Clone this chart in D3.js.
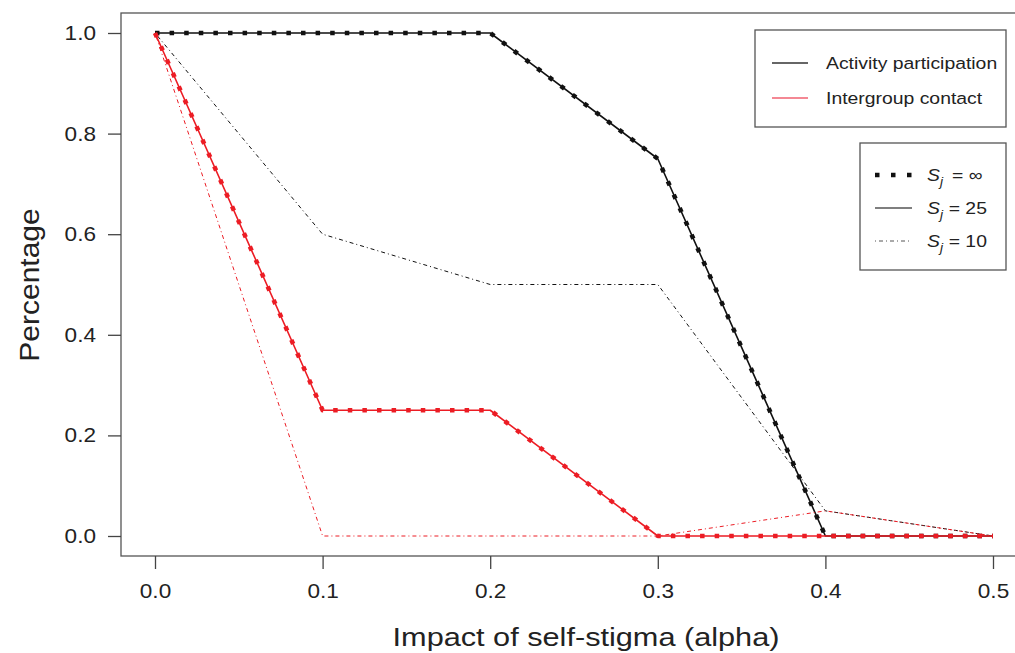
<!DOCTYPE html>
<html>
<head>
<meta charset="utf-8">
<script src="https://cdn.jsdelivr.net/npm/d3@7"></script>
<style>
html,body{margin:0;padding:0;background:#fff;overflow:hidden;}
text{font-family:"Liberation Sans",Arial,sans-serif;fill:#222;}
</style>
</head>
<body>
<svg id="chart" width="1015" height="653"></svg>
<script>
const alphas = [0.0, 0.1, 0.2, 0.3, 0.4, 0.5];
const activityInf = [1, 1, 1, 0.75, 0, 0];
const activity25 = [1, 1, 1, 0.75, 0, 0];
const activity10 = [1, 0.6, 0.5, 0.5, 0.05, 0];
const contactInf = [1, 0.25, 0.25, 0, 0, 0];
const contact25 = [1, 0.25, 0.25, 0, 0, 0];
const contact10 = [1, 0, 0, 0, 0.05, 0];
const xTicks = [0.0, 0.1, 0.2, 0.3, 0.4, 0.5];
const yTicks = [0.0, 0.2, 0.4, 0.6, 0.8, 1.0];
const legendMeasures = ["Activity participation", "Intergroup contact"];
const legendS = ["= \u221e", "= 25", "= 10"];

const svg = d3.select("#chart");
const box = {left: 121, top: 13, right: 1030, bottom: 556};
const x = d3.scaleLinear().domain([0, 0.5]).range([155, 993]);
const y = d3.scaleLinear().domain([0, 1]).range([536, 33]);
const BLACK = "#111", RED = "#ec1c24";
const SX = 1.13;

// plot box
svg.append("rect").attr("x", box.left).attr("y", box.top)
  .attr("width", box.right - box.left).attr("height", box.bottom - box.top)
  .attr("fill", "none").attr("stroke", "#555").attr("stroke-width", 1.3);

// axes
const xAxis = d3.axisBottom(x).tickValues(xTicks).tickFormat(d3.format(".1f")).tickSize(13).tickPadding(15);
const gx = svg.append("g").attr("transform", `translate(0,${box.bottom})`).call(xAxis);
gx.select(".domain").remove();
gx.selectAll("line").attr("stroke", "#444").attr("stroke-width", 1.3);
gx.selectAll("text").attr("font-size", 20).attr("fill", "#222")
  .attr("font-family", "Liberation Sans, Arial, sans-serif")
  .attr("transform", `scale(${SX},1)`);

const yAxis = d3.axisLeft(y).tickValues(yTicks).tickFormat(d3.format(".1f")).tickSize(13).tickPadding(12);
const gy = svg.append("g").attr("transform", `translate(${box.left},0)`).call(yAxis);
gy.select(".domain").remove();
gy.selectAll("line").attr("stroke", "#444").attr("stroke-width", 1.3);
gy.selectAll("text").attr("font-size", 20).attr("fill", "#222")
  .attr("font-family", "Liberation Sans, Arial, sans-serif")
  .attr("x", -25 / SX).attr("transform", `scale(${SX},1)`);

// titles
svg.append("text").attr("transform", "translate(586,646) scale(1.18,1)").attr("text-anchor", "middle")
  .attr("font-size", 26).text("Impact of self-stigma (alpha)");
svg.append("text").attr("transform", "translate(39,285) rotate(-90) scale(1.25,1.12)").attr("text-anchor", "middle")
  .attr("font-size", 24).text("Percentage");

// lines
const line = d3.line().x((d, i) => x(alphas[i])).y(d => y(d));
const styles = {
  inf: {w: 4.5, dash: "4.5 10.1"},
  s25: {w: 1.6, dash: null},
  s10: {w: 1, dash: "1 3 4 3"}
};
function draw(vals, color, st) {
  const p = svg.append("path").datum(vals).attr("d", line)
    .attr("fill", "none").attr("stroke", color).attr("stroke-width", st.w)
    .attr("stroke-linejoin", "round");
  if (st.dash) p.attr("stroke-dasharray", st.dash);
}
draw(activity10, BLACK, styles.s10);
draw(activity25, BLACK, styles.s25);
draw(activityInf, BLACK, styles.inf);
draw(contact10, RED, styles.s10);
draw(contact25, RED, styles.s25);
draw(contactInf, RED, styles.inf);

// legend 1
const l1 = svg.append("g");
l1.append("rect").attr("x", 755).attr("y", 30).attr("width", 251).attr("height", 97)
  .attr("fill", "#fff").attr("stroke", "#555").attr("stroke-width", 1.3);
legendMeasures.forEach((t, i) => {
  const yy = 63 + i * 35;
  l1.append("line").attr("x1", 772).attr("x2", 808).attr("y1", yy).attr("y2", yy)
    .attr("stroke", i === 0 ? "#333" : "#f06070").attr("stroke-width", 1.3);
  l1.append("text").attr("transform", `translate(826,${yy + 6}) scale(1.14,1)`).attr("font-size", 17).text(t);
});

// legend 2
const l2 = svg.append("g");
l2.append("rect").attr("x", 860).attr("y", 143).attr("width", 146).attr("height", 127)
  .attr("fill", "#fff").attr("stroke", "#555").attr("stroke-width", 1.3);
legendS.forEach((t, i) => {
  const yy = 175 + i * 33;
  const ln = l2.append("line").attr("x1", 875).attr("x2", 912).attr("y1", yy).attr("y2", yy)
    .attr("stroke", i === 0 ? "#111" : "#555").attr("stroke-width", i === 0 ? 4.5 : (i === 1 ? 1.6 : 1));
  if (i === 0) ln.attr("stroke-dasharray", "4.5 11.5");
  if (i === 2) ln.attr("stroke-dasharray", "1 3 4 3");
  const tx = l2.append("text").attr("transform", `translate(927,${yy + 6}) scale(1.14,1)`).attr("font-size", 17);
  tx.append("tspan").attr("font-style", "italic").text("S");
  tx.append("tspan").attr("font-style", "italic").attr("font-size", 12).attr("dy", 5).text("j");
  tx.append("tspan").attr("dy", -5).attr("dx", i === 0 ? 8 : 5).text(t);
});
</script>
</body>
</html>
